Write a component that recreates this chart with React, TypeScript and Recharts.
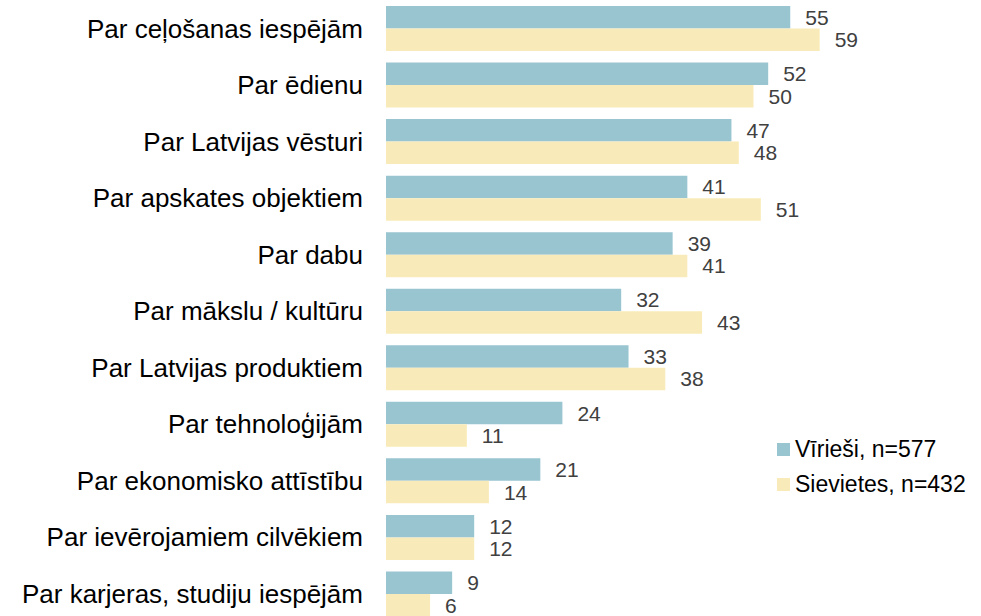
import { BarChart, Bar, XAxis, YAxis, LabelList, Legend } from 'recharts'

const CATEGORIES = [
  'Par ceļošanas iespējām',
  'Par ēdienu',
  'Par Latvijas vēsturi',
  'Par apskates objektiem',
  'Par dabu',
  'Par mākslu / kultūru',
  'Par Latvijas produktiem',
  'Par tehnoloģijām',
  'Par ekonomisko attīstību',
  'Par ievērojamiem cilvēkiem',
  'Par karjeras, studiju iespējām',
]

const MEN = [55, 52, 47, 41, 39, 32, 33, 24, 21, 12, 9]
const WOMEN = [59, 50, 48, 51, 41, 43, 38, 11, 14, 12, 6]

const SERIES = [
  { key: 'men', name: 'Vīrieši, n=577', color: '#99c5d1' },
  { key: 'women', name: 'Sievietes, n=432', color: '#f9ebb9' },
]

const FONT = "Arial, 'Liberation Sans', sans-serif"

const data = CATEGORIES.map((name, i) => ({ name, men: MEN[i], women: WOMEN[i] }))

// own order, recharts may resort the payload
function LegendBox() {
  return (
    <div style={{ fontFamily: FONT, fontSize: 23, color: '#000', lineHeight: '35px' }}>
      {SERIES.map((s) => (
        <div key={s.key} style={{ display: 'flex', alignItems: 'center', height: 35 }}>
          <span style={{ width: 13, height: 13, background: s.color, marginRight: 5, display: 'inline-block' }} />
          <span>{s.name}</span>
        </div>
      ))}
    </div>
  )
}

export default function App() {
  return (
    <div style={{ position: 'absolute', left: 0, top: 0, width: 981, height: 616, overflow: 'hidden', background: '#fff' }}>
      <BarChart
        width={981}
        height={623}
        data={data}
        layout="vertical"
        margin={{ top: 0, right: 154, bottom: 1, left: 0 }}
        barGap={0}
        barSize={22.5}
      >
        <XAxis type="number" domain={[0, 60]} hide />
        <YAxis
          type="category"
          dataKey="name"
          width={386}
          axisLine={false}
          tickLine={false}
          tickSize={0}
          tickMargin={23}
          interval={0}
          tick={{ fontSize: 26, fill: '#000', fontFamily: FONT }}
        />
        <Legend
          layout="horizontal"
          verticalAlign="middle"
          align="center"
          content={<LegendBox />}
          wrapperStyle={{ position: 'absolute', left: 777, top: 432, width: 204 }}
        />
        {SERIES.map((s) => (
          <Bar key={s.key} dataKey={s.key} name={s.name} fill={s.color} isAnimationActive={false}>
            <LabelList
              dataKey={s.key}
              position="right"
              offset={15}
              style={{ fontSize: 21, fill: '#404040', fontFamily: FONT }}
            />
          </Bar>
        ))}
      </BarChart>
    </div>
  )
}
